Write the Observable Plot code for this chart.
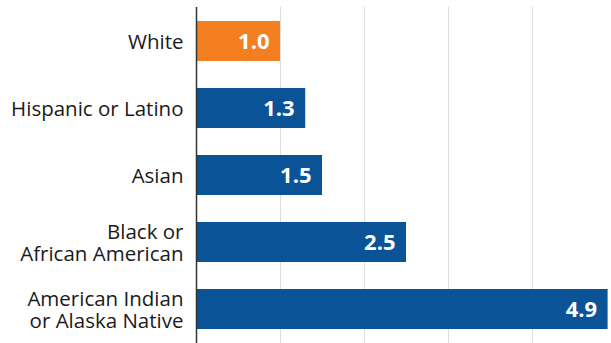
<!DOCTYPE html>
<html>
<head>
<meta charset="utf-8">
<script src="https://cdn.jsdelivr.net/npm/d3@7"></script>
<script src="https://cdn.jsdelivr.net/npm/@observablehq/plot@0.6"></script>
<style>
  html, body { margin: 0; padding: 0; background: #fff; }
  #chart svg { display: block; }
</style>
</head>
<body>
<div id="chart"></div>
<script>
const categories = ["White", "Hispanic or Latino", "Asian", "Black or\nAfrican American", "American Indian\nor Alaska Native"];
const values = [1.0, 1.3, 1.5, 2.5, 4.9];
const labels = ["1.0", "1.3", "1.5", "2.5", "4.9"];
const gridTicks = [1, 2, 3, 4];
const highlight = "White";

const data = categories.map((c, i) => ({category: c, value: values[i], label: labels[i]}));

const chart = Plot.plot({
  width: 611,
  height: 343,
  marginTop: 7,
  marginBottom: 0,
  marginLeft: 196,
  marginRight: 0,
  style: {fontFamily: "'Open Sans', sans-serif", background: "#fff"},
  x: {domain: [0, 5], range: [196, 616], axis: null},
  y: {domain: categories, paddingInner: 0.405, paddingOuter: 0.2, axis: null},
  marks: [
    Plot.ruleX(gridTicks, {stroke: "#dcdcdc", strokeWidth: 1}),
    Plot.barX(data, {
      x: "value", y: "category",
      fill: d => d.category === highlight ? "#F47F20" : "#0A5396"
    }),
    Plot.ruleX([0], {stroke: "#333", strokeWidth: 1.5}),
    Plot.text(data, {
      x: "value", y: "category", text: "label",
      textAnchor: "end", dx: -11, fill: "#fff",
      fontWeight: "bold", fontSize: 22
    }),
    Plot.text(data, {
      x: 0, y: "category", text: "category",
      textAnchor: "end", dx: -13, fill: "#1a1a1a",
      fontSize: 20.5, lineHeight: 1.07
    })
  ]
});
document.getElementById("chart").appendChild(chart);
</script>
</body>
</html>
